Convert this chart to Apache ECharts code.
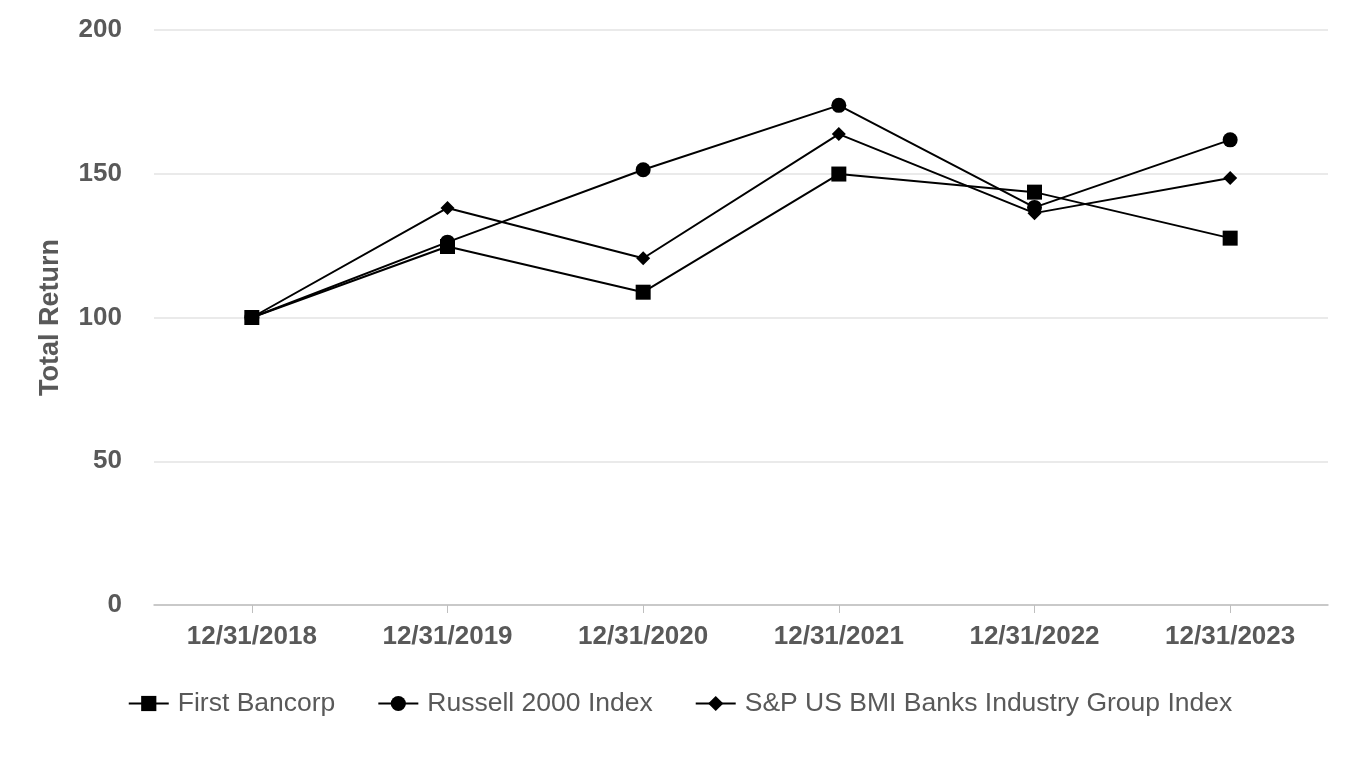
<!DOCTYPE html>
<html>
<head>
<meta charset="utf-8">
<script src="https://cdn.jsdelivr.net/npm/echarts@6/dist/echarts.min.js"></script>
<style>html,body{margin:0;padding:0;background:#fff}#c{width:1360px;height:760px}</style>
</head>
<body>
<div id="c"></div>
<script>
var categories = ['12/31/2018','12/31/2019','12/31/2020','12/31/2021','12/31/2022','12/31/2023'];
var firstBancorp = [100, 124.7, 108.8, 149.9, 143.6, 127.6];
var russell2000 = [100, 126.2, 151.4, 173.8, 138.3, 161.8];
var spBanks = [100, 138.1, 120.6, 163.8, 136.3, 148.5];
var yTicks = [0, 50, 100, 150, 200];

var chart = echarts.init(document.getElementById('c'));
var txt = '#595959';
function mk(name, data, symbol, size) {
  return {
    name: name, type: 'line', data: data, symbol: symbol, symbolSize: size,
    showAllSymbol: true,
    lineStyle: {color: '#000', width: 2},
    itemStyle: {color: '#000'},
    emphasis: {disabled: true},
    animation: false
  };
}
chart.setOption({
  animation: false,
  textStyle: {fontFamily: 'Liberation Sans, Arial, sans-serif'},
  grid: {left: 154, right: 32, top: 30, bottom: 155},
  legend: {
    bottom: 38, left: 'center',
    itemWidth: 40, itemHeight: 19, itemGap: 42,
    textStyle: {fontSize: 26.5, color: txt, padding: [0, 0, 0, 4], fontFamily: 'Liberation Sans, Arial, sans-serif'},
    data: ['First Bancorp', 'Russell 2000 Index', 'S&P US BMI Banks Industry Group Index']
  },
  xAxis: {
    type: 'category', data: categories, boundaryGap: true,
    axisLine: {lineStyle: {color: '#bfbfbf', width: 1.5}},
    axisTick: {show: true, alignWithLabel: true, length: 8, lineStyle: {color: '#bfbfbf'}},
    axisLabel: {fontSize: 26, fontWeight: 'bold', color: txt, margin: 19}
  },
  yAxis: {
    type: 'value', min: yTicks[0], max: yTicks[yTicks.length - 1], interval: 50,
    name: 'Total Return', nameLocation: 'middle', nameGap: 90,
    nameTextStyle: {fontSize: 27, fontWeight: 'bold', color: txt},
    axisLine: {show: false}, axisTick: {show: false},
    axisLabel: {fontSize: 26, fontWeight: 'bold', color: txt, margin: 32},
    splitLine: {lineStyle: {color: '#e3e3e3', width: 1.5}}
  },
  series: [
    mk('First Bancorp', firstBancorp, 'rect', 15),
    mk('Russell 2000 Index', russell2000, 'circle', 15),
    mk('S&P US BMI Banks Industry Group Index', spBanks, 'diamond', 14)
  ]
});
</script>
</body>
</html>
